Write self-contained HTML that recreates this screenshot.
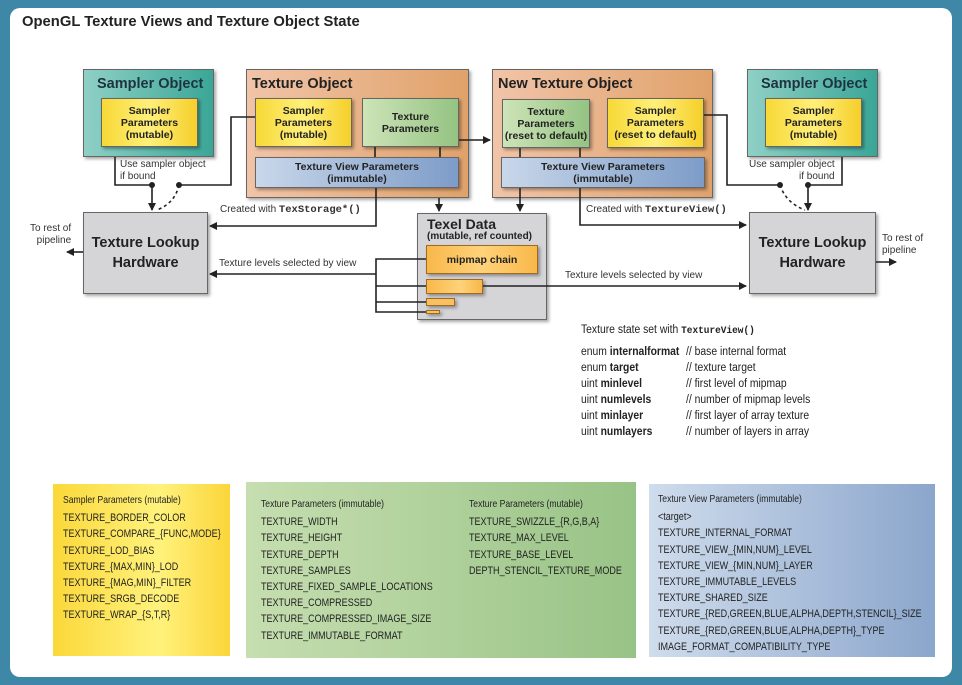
<!DOCTYPE html>
<html><head><meta charset="utf-8"><style>
*{margin:0;padding:0;box-sizing:border-box}
body{width:962px;height:685px;background:#3f87a7;position:relative;overflow:hidden;font-family:"Liberation Sans",sans-serif;color:#222}
.panel{position:absolute;left:10px;top:8px;width:942px;height:669px;background:#fff;border-radius:10px}
.a{position:absolute}
.box{position:absolute;box-shadow:2px 2px 3px rgba(0,0,0,.35);border:1px solid #666}
.c{display:flex;align-items:center;justify-content:center;text-align:center;font-weight:bold;font-size:10.5px;line-height:12px;color:#222}
.teal{background:linear-gradient(90deg,#8fd0c5,#3aa697)}
.orange{background:linear-gradient(90deg,#f1c4a8,#e0a26a)}
.yel{background:linear-gradient(90deg,#f7d836,#fff07a 50%,#f5cf2a)}
.grn{background:linear-gradient(90deg,#cde4b8,#95c383)}
.blu{background:linear-gradient(90deg,#c9d7ea,#7d9cc8)}
.gray{background:#d5d5d8}
.h{font-weight:bold;font-size:14.5px;position:absolute}
.lbl{position:absolute;font-size:10px;color:#333;white-space:nowrap}
.mono{font-family:"Liberation Mono",monospace;font-weight:bold;font-size:10.5px}
.n{font-family:"Liberation Sans",sans-serif;font-size:11px;color:#222;line-height:16.2px;white-space:nowrap;transform:scaleX(0.82);transform-origin:left top}
.code{position:absolute;font-family:"Liberation Sans",sans-serif;font-size:11.5px;white-space:nowrap;color:#222;transform:scaleX(0.9);transform-origin:left top}
</style></head><body>
<div class="panel"></div>
<div class="a" style="left:22px;top:14px;font-weight:bold;font-size:14.8px;color:#222">OpenGL Texture Views and Texture Object State</div>

<div class="box teal" style="left:83px;top:69px;width:131px;height:88px"><div class="h" style="left:13px;top:6px;color:#1d3340">Sampler Object</div></div>
<div class="box yel c" style="left:101px;top:98px;width:97px;height:49px">Sampler<br>Parameters<br>(mutable)</div>

<div class="box orange" style="left:246px;top:69px;width:223px;height:129px"><div class="h" style="left:5px;top:6px">Texture Object</div></div>
<div class="box yel c" style="left:255px;top:98px;width:97px;height:49px">Sampler<br>Parameters<br>(mutable)</div>
<div class="box grn c" style="left:362px;top:98px;width:97px;height:49px">Texture<br>Parameters</div>
<div class="box blu c" style="left:255px;top:157px;width:204px;height:31px">Texture View Parameters<br>(immutable)</div>

<div class="box orange" style="left:492px;top:69px;width:221px;height:129px"><div class="h" style="left:5px;top:6px">New Texture Object</div></div>
<div class="box grn c" style="left:502px;top:99px;width:88px;height:49px">Texture<br>Parameters<br>(reset to default)</div>
<div class="box yel c" style="left:607px;top:98px;width:97px;height:50px">Sampler<br>Parameters<br>(reset to default)</div>
<div class="box blu c" style="left:501px;top:157px;width:204px;height:31px">Texture View Parameters<br>(immutable)</div>

<div class="box teal" style="left:747px;top:69px;width:131px;height:88px"><div class="h" style="left:13px;top:6px;color:#1d3340">Sampler Object</div></div>
<div class="box yel c" style="left:765px;top:98px;width:97px;height:49px">Sampler<br>Parameters<br>(mutable)</div>

<div class="box gray c" style="left:83px;top:212px;width:125px;height:82px;font-size:14.5px;line-height:20px">Texture Lookup<br>Hardware</div>
<div class="box gray c" style="left:749px;top:212px;width:127px;height:82px;font-size:14.5px;line-height:20px">Texture Lookup<br>Hardware</div>

<div class="box gray" style="left:417px;top:213px;width:130px;height:107px">
<div style="position:absolute;left:9px;top:2px;font-weight:bold;font-size:14px">Texel Data</div>
<div style="position:absolute;left:9px;top:17px;font-weight:bold;font-size:10px">(mutable, ref counted)</div></div>
<div class="box c" style="left:426px;top:245px;width:112px;height:29px;background:linear-gradient(90deg,#f8b84a,#ffd27a 50%,#f8b84a);border-color:#a06a20">mipmap chain</div>
<div class="box" style="left:426px;top:279px;width:57px;height:15px;background:linear-gradient(90deg,#f8b84a,#ffd27a 60%,#f8b84a);border-color:#a06a20"></div>
<div class="box" style="left:426px;top:298px;width:29px;height:8px;background:#f8c060;border-color:#a06a20"></div>
<div class="box" style="left:426px;top:310px;width:14px;height:4px;background:#f8c060;border-color:#a06a20"></div>

<svg class="a" style="left:0;top:0" width="962" height="685">
<defs><marker id="ar" markerWidth="8" markerHeight="8" refX="7" refY="4" orient="auto" markerUnits="userSpaceOnUse"><path d="M0,0 L8,4 L0,8 z" fill="#222"/></marker></defs>
<g stroke="#222" stroke-width="1.6" fill="none">
<path d="M115,157 V185 H152 V210" marker-end="url(#ar)"/>
<path d="M255,117 H231 V185 H179"/>
<path d="M179,185 Q175,203 157,210" stroke-dasharray="3,3"/>
<path d="M376,188 V226 H210" marker-end="url(#ar)"/>
<path d="M375,147 V157 M440,147 V157 M520,148 V157 M580,148 V157"/>
<path d="M439,198 V211" marker-end="url(#ar)"/>
<path d="M426,259 H376 V312 H426 M376,286 H426 M376,302 H426" />
<path d="M376,274 H210" marker-end="url(#ar)"/>
<path d="M459,140 H490" marker-end="url(#ar)"/>
<path d="M520,188 V211" marker-end="url(#ar)"/>
<path d="M580,188 V225 H746" marker-end="url(#ar)"/>
<path d="M704,115 H727 V185 H780"/>
<path d="M780,185 Q786,203 805,210" stroke-dasharray="3,3"/>
<path d="M842,157 V185 H808 V210" marker-end="url(#ar)"/>
<path d="M483,286 H746" marker-end="url(#ar)"/>
<path d="M83,252 H67" marker-end="url(#ar)"/>
<path d="M876,262 H896" marker-end="url(#ar)"/>
</g>
<g fill="#222"><circle cx="152" cy="185" r="3"/><circle cx="179" cy="185" r="3"/><circle cx="780" cy="185" r="3"/><circle cx="808" cy="185" r="3"/></g>
</svg>

<div class="lbl" style="left:120px;top:159px;line-height:12px">Use sampler object<br>if bound</div>
<div class="lbl" style="left:749px;top:159px;line-height:12px;text-align:right">Use sampler object<br>if bound</div>
<div class="lbl" style="left:220px;top:204px">Created with <span class="mono">TexStorage*()</span></div>
<div class="lbl" style="left:586px;top:204px">Created with <span class="mono">TextureView()</span></div>
<div class="lbl" style="left:219px;top:258px">Texture levels selected by view</div>
<div class="lbl" style="left:565px;top:270px">Texture levels selected by view</div>
<div class="lbl" style="left:30px;top:223px;line-height:12px;text-align:right">To rest of<br>pipeline</div>
<div class="lbl" style="left:882px;top:233px;line-height:12px">To rest of<br>pipeline</div>

<div class="code" style="left:581px;top:324px">Texture state set with <span class="mono">TextureView()</span></div>
<div class="code" style="left:581px;top:344px;line-height:16px">enum <b>internalformat</b><br>enum <b>target</b><br>uint <b>minlevel</b><br>uint <b>numlevels</b><br>uint <b>minlayer</b><br>uint <b>numlayers</b></div>
<div class="code" style="left:686px;top:344px;line-height:16px">// base internal format<br>// texture target<br>// first level of mipmap<br>// number of mipmap levels<br>// first layer of array texture<br>// number of layers in array</div>

<div class="a" style="left:53px;top:484px;width:177px;height:172px;padding:8px 0 0 10px;background:linear-gradient(90deg,#fbd83a,#fff27c 60%,#fbd53a)">
<div class="n" style="font-size:10.5px;margin-bottom:2px">Sampler Parameters (mutable)</div>
<div class="n">TEXTURE_BORDER_COLOR<br>TEXTURE_COMPARE_{FUNC,MODE}<br>TEXTURE_LOD_BIAS<br>TEXTURE_{MAX,MIN}_LOD<br>TEXTURE_{MAG,MIN}_FILTER<br>TEXTURE_SRGB_DECODE<br>TEXTURE_WRAP_{S,T,R}</div></div>

<div class="a" style="left:246px;top:482px;width:390px;height:176px;background:linear-gradient(90deg,#c6deb0,#98c386)"></div>
<div class="a" style="left:261px;top:496px"><div class="n" style="font-size:10.5px;margin-bottom:2px">Texture Parameters (immutable)</div>
<div class="n">TEXTURE_WIDTH<br>TEXTURE_HEIGHT<br>TEXTURE_DEPTH<br>TEXTURE_SAMPLES<br>TEXTURE_FIXED_SAMPLE_LOCATIONS<br>TEXTURE_COMPRESSED<br>TEXTURE_COMPRESSED_IMAGE_SIZE<br>TEXTURE_IMMUTABLE_FORMAT</div></div>
<div class="a" style="left:469px;top:496px"><div class="n" style="font-size:10.5px;margin-bottom:2px">Texture Parameters (mutable)</div>
<div class="n">TEXTURE_SWIZZLE_{R,G,B,A}<br>TEXTURE_MAX_LEVEL<br>TEXTURE_BASE_LEVEL<br>DEPTH_STENCIL_TEXTURE_MODE</div></div>

<div class="a" style="left:649px;top:484px;width:286px;height:173px;background:linear-gradient(90deg,#cfdcec,#8ba6cc);padding:7px 0 0 9px">
<div class="n" style="font-size:10.5px;margin-bottom:2px">Texture View Parameters (immutable)</div>
<div class="n">&lt;target&gt;<br>TEXTURE_INTERNAL_FORMAT<br>TEXTURE_VIEW_{MIN,NUM}_LEVEL<br>TEXTURE_VIEW_{MIN,NUM}_LAYER<br>TEXTURE_IMMUTABLE_LEVELS<br>TEXTURE_SHARED_SIZE<br>TEXTURE_{RED,GREEN,BLUE,ALPHA,DEPTH,STENCIL}_SIZE<br>TEXTURE_{RED,GREEN,BLUE,ALPHA,DEPTH}_TYPE<br>IMAGE_FORMAT_COMPATIBILITY_TYPE</div></div>
</body></html>
